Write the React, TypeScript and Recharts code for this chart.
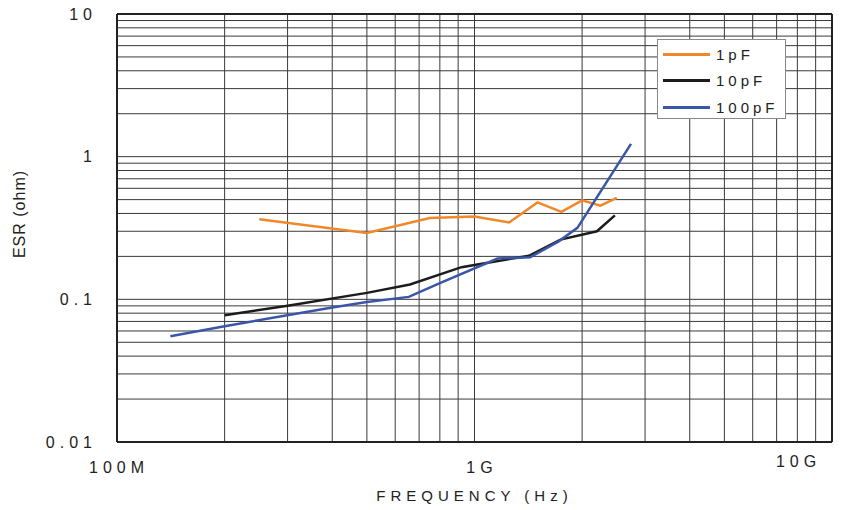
import { LineChart, Line, XAxis, YAxis, ReferenceLine } from "recharts"

// ESR vs frequency
const freq1pF = [250e6, 500e6, 750e6, 1e9, 1.25e9, 1.5e9, 1.75e9, 2e9, 2.25e9, 2.5e9]
const esr1pF = [0.364, 0.292, 0.372, 0.38, 0.346, 0.478, 0.41, 0.494, 0.453, 0.514]

const freq10pF = [200e6, 300e6, 500e6, 660e6, 920e6, 1e9, 1.42e9, 1.74e9, 2.2e9, 2.47e9]
const esr10pF = [0.0773, 0.0903, 0.111, 0.127, 0.168, 0.174, 0.202, 0.262, 0.3, 0.388]

const freq100pF = [141e6, 200e6, 400e6, 500e6, 655e6, 800e6, 1.16e9, 1.43e9, 1.72e9, 1.94e9, 2.74e9]
const esr100pF = [0.0552, 0.0648, 0.0878, 0.0959, 0.104, 0.13, 0.193, 0.197, 0.255, 0.317, 1.23]

const xTicks = [1e8, 1e9, 1e10]
const xTickLabels = ["100M", "1G", "10G"]
const yTicks = [0.01, 0.1, 1, 10]
const yTickLabels = ["0.01", "0.1", "1", "10"]

const xGrid = [2e8, 3e8, 4e8, 5e8, 6e8, 7e8, 8e8, 9e8, 1e9, 2e9, 3e9, 4e9, 5e9, 6e9, 7e9, 8e9, 9e9]
const yGrid = [
  0.02, 0.03, 0.04, 0.05, 0.06, 0.07, 0.08, 0.09, 0.1,
  0.2, 0.3, 0.4, 0.5, 0.6, 0.7, 0.8, 0.9, 1,
  2, 3, 4, 5, 6, 7, 8, 9,
]

const series = [
  { name: "1pF", color: "#F0882A", freq: freq1pF, esr: esr1pF },
  { name: "10pF", color: "#1c1c1c", freq: freq10pF, esr: esr10pF },
  { name: "100pF", color: "#3A56A8", freq: freq100pF, esr: esr100pF },
]

const FONT = "'Liberation Sans', Arial, sans-serif"
const GRID = "#3a3a3a"

function XTick({ x, y, payload }: any) {
  const i = xTicks.indexOf(payload.value)
  // small per-label nudges to match the original placement
  const dx = [2, 7.5, -5.5][i] ?? 0
  const dy = [25, 25, 19][i] ?? 25
  return (
    <text x={x + dx} y={y + dy} textAnchor="middle" dy="0.35em" fontSize={16} letterSpacing={5}
      fill="#222" fontFamily={FONT}>
      {xTickLabels[i]}
    </text>
  )
}

function YTick({ y, payload }: any) {
  const i = yTicks.indexOf(payload.value)
  return (
    <text x={97} y={y} textAnchor="end" dy="0.35em" fontSize={16} letterSpacing={5}
      fill="#222" fontFamily={FONT}>
      {yTickLabels[i]}
    </text>
  )
}

function YLabel({ viewBox }: any) {
  const cx = 19
  const cy = viewBox.y + viewBox.height / 2 - 14
  return (
    <text x={cx} y={cy} transform={`rotate(-90, ${cx}, ${cy})`} textAnchor="middle" dy="0.35em"
      fontSize={16} letterSpacing={1} fill="#222" fontFamily={FONT}>
      ESR (ohm)
    </text>
  )
}

function LegendBox() {
  return (
    <div style={{ position: "absolute", left: 657, top: 39, width: 127, height: 78, border: "1px solid #8a8a8a", background: "#fff", fontFamily: FONT }}>
      {series.map((s, i) => (
        <div key={s.name} style={{ position: "absolute", left: 0, top: 14 + i * 26.5 - 9, height: 18, display: "flex", alignItems: "center" }}>
          <div style={{ width: 47, height: 3, background: s.color, marginLeft: 5 }} />
          <span style={{ marginLeft: 6, fontSize: 15, letterSpacing: 4, color: "#222" }}>{s.name}</span>
        </div>
      ))}
    </div>
  )
}

export default function App() {
  return (
    <div style={{ position: "absolute", left: 0, top: 0, width: 848, height: 510, background: "#fff" }}>
      <LineChart width={848} height={510} margin={{ top: 14, right: 16, bottom: 8, left: 0 }}>
        {xGrid.map((v) => (
          <ReferenceLine key={"x" + v} x={v} stroke={GRID} strokeWidth={1} />
        ))}
        {yGrid.map((v) => (
          <ReferenceLine key={"y" + v} y={v} stroke={GRID} strokeWidth={1} />
        ))}
        <ReferenceLine y={10} stroke="#222" strokeWidth={2} />
        <ReferenceLine x={1e10} stroke="#222" strokeWidth={2} />
        <XAxis
          type="number"
          dataKey="f"
          scale="log"
          domain={[1e8, 1e10]}
          ticks={xTicks}
          allowDataOverflow
          height={60}
          tickSize={0}
          tickMargin={0}
          tick={<XTick />}
          axisLine={{ stroke: "#222", strokeWidth: 2 }}
          label={{ value: "FREQUENCY (Hz)", position: "insideBottom", offset: 0, dy: -1, fontSize: 15, letterSpacing: 5, fill: "#222", fontFamily: FONT }}
        />
        <YAxis
          type="number"
          dataKey="v"
          scale="log"
          domain={[0.01, 10]}
          ticks={yTicks}
          allowDataOverflow
          width={117}
          tickSize={0}
          tickMargin={0}
          tick={<YTick />}
          axisLine={{ stroke: "#222", strokeWidth: 2 }}
          label={<YLabel />}
        />
        {series.map((s) => (
          <Line
            key={s.name}
            name={s.name}
            data={s.freq.map((f, i) => ({ f, v: s.esr[i] }))}
            dataKey="v"
            stroke={s.color}
            strokeWidth={2.5}
            dot={false}
            activeDot={false}
            type="linear"
            isAnimationActive={false}
          />
        ))}
      </LineChart>
      <LegendBox />
    </div>
  )
}
